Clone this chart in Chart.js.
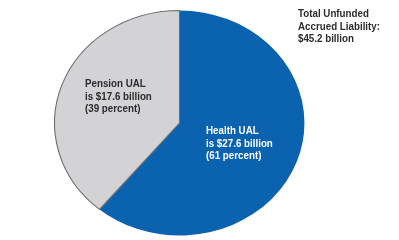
<!DOCTYPE html>
<html>
<head>
<meta charset="utf-8">
<script src="https://cdn.jsdelivr.net/npm/chart.js@4"></script>
<style>
  html, body { margin: 0; padding: 0; background: #fff; }
  #wrap { width: 399px; height: 240px; position: relative; }
</style>
</head>
<body>
<div id="wrap"><canvas id="pieChart" width="399" height="240"></canvas></div>
<script>
// Data
const categories = ['Health UAL', 'Pension UAL'];
const amounts = [27.6, 17.6];
const percents = [61, 39];
const totalLines = ['Total Unfunded', 'Accrued Liability:', '$45.2 billion'];

// Styling
const sliceColors = ['#0b63b0', '#d3d3d5'];
const textColors = ['#ffffff', '#2b2b2b'];
const labelAnchors = [{ x: 206, y: 131 }, { x: 85, y: 84 }];
const stretchX = 251 / 226;
const textSqueeze = 0.85; // original lettering is a condensed face

// squeeze the pie horizontally into an ellipse like the original artwork
const ellipsePlugin = {
    id: 'ellipse',
    beforeDatasetsDraw(chart) {
        const arc = chart.getDatasetMeta(0).data[0];
        const ctx = chart.ctx;
        ctx.save();
        ctx.translate(arc.x, arc.y);
        ctx.scale(stretchX, 1);
        ctx.translate(-arc.x, -arc.y);
    },
    afterDatasetsDraw(chart) {
        chart.ctx.restore();
    }
};

function condensedText(ctx, text, x, y) {
    ctx.save();
    ctx.translate(x, y);
    ctx.scale(textSqueeze, 1);
    ctx.fillText(text, 0, 0);
    ctx.restore();
}

const labelPlugin = {
    id: 'labels',
    afterDraw(chart) {
        const ctx = chart.ctx;
        ctx.save();
        ctx.font = 'bold 11.5px "Liberation Sans", Arial, sans-serif';
        ctx.textBaseline = 'middle';
        ctx.textAlign = 'left';

        categories.forEach((cat, i) => {
            const lines = [cat, `is $${amounts[i]} billion`, `(${percents[i]} percent)`];
            ctx.fillStyle = textColors[i];
            lines.forEach((line, j) => {
                condensedText(ctx, line, labelAnchors[i].x, labelAnchors[i].y + j * 12.5);
            });
        });

        ctx.fillStyle = '#2b2b2b';
        totalLines.forEach((line, j) => {
            condensedText(ctx, line, 298, 14 + j * 12.5);
        });
        ctx.restore();
    }
};

new Chart(document.getElementById('pieChart').getContext('2d'), {
    type: 'pie',
    data: {
        labels: categories,
        datasets: [{
            data: amounts,
            backgroundColor: sliceColors,
            borderColor: ['#0b63b0', '#6e6e70'],
            borderWidth: [0, 1]
        }]
    },
    options: {
        responsive: false,
        animation: false,
        layout: { padding: { top: 10, bottom: 4, left: 66.5, right: 106.5 } },
        plugins: {
            legend: { display: false },
            tooltip: { enabled: false }
        }
    },
    plugins: [ellipsePlugin, labelPlugin]
});
</script>
</body>
</html>
